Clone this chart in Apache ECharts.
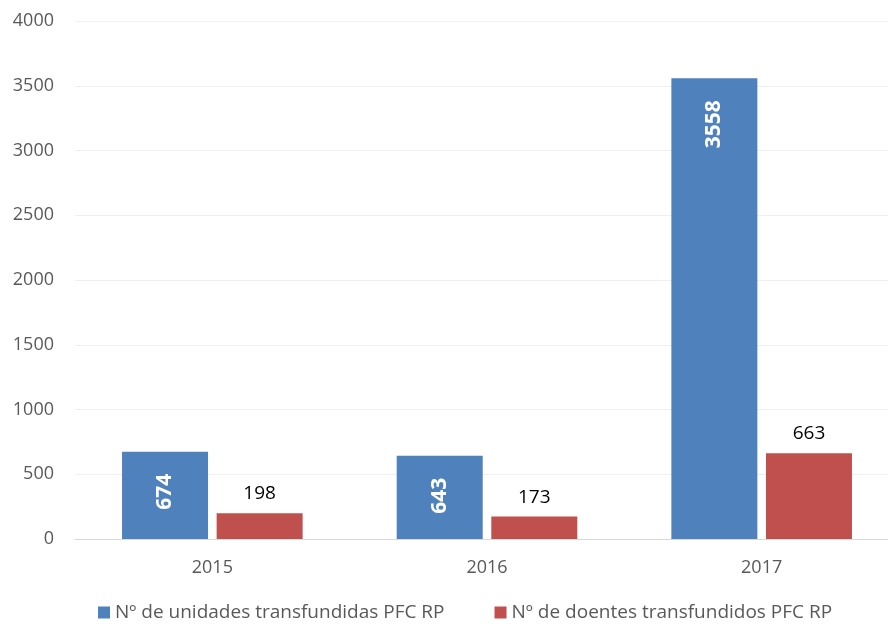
<!DOCTYPE html>
<html>
<head>
<meta charset="utf-8">
<script src="https://cdn.jsdelivr.net/npm/echarts@6/dist/echarts.min.js"></script>
<style>
  html, body { margin: 0; padding: 0; background: #ffffff; }
  #chart { width: 888px; height: 624px; }
</style>
</head>
<body>
<div id="chart"></div>
<script>
// Categories (years)
const years = ['2015', '2016', '2017'];
// Series values
const unidades = [674, 643, 3558];
const doentes = [198, 173, 663];
// Series names
const nameUnidades = 'Nº de unidades transfundidas PFC RP';
const nameDoentes = 'Nº de doentes transfundidos PFC RP';
// Value axis ticks
const yMin = 0, yMax = 4000, yStep = 500;

const fontFam = '"Open Sans", "Noto Sans", sans-serif';

const chart = echarts.init(document.getElementById('chart'), null, { renderer: 'canvas' });
chart.setOption({
  animation: false,
  backgroundColor: '#ffffff',
  textStyle: { fontFamily: fontFam },
  // plot area runs slightly past the right edge of the canvas
  grid: { left: 75, width: 824, top: 21, height: 518, containLabel: false, outerBoundsMode: 'none' },
  legend: {
    top: 598,
    left: 93,
    itemWidth: 12,
    itemHeight: 12,
    itemGap: 50,
    icon: 'rect',
    textStyle: { fontFamily: fontFam, fontSize: 19, color: '#595959' },
    data: [nameUnidades, nameDoentes]
  },
  xAxis: {
    type: 'category',
    data: years,
    axisLine: { lineStyle: { color: '#d9d9d9', width: 1 } },
    axisTick: { show: false },
    axisLabel: { fontFamily: fontFam, fontSize: 18, color: '#595959', margin: 20 }
  },
  yAxis: {
    type: 'value',
    min: yMin,
    max: yMax,
    interval: yStep,
    axisLine: { show: false },
    axisTick: { show: false },
    splitLine: { lineStyle: { color: '#efefef', width: 1 } },
    axisLabel: {
      fontFamily: fontFam, fontSize: 18, color: '#595959', margin: 21,
      formatter: v => String(v)
    }
  },
  series: [
    {
      name: nameUnidades,
      type: 'bar',
      data: unidades,
      barWidth: 86,
      barGap: '10%',
      itemStyle: { color: '#4F81BD' },
      label: {
        show: true,
        position: 'insideTop',
        rotate: 90,
        align: 'right',
        verticalAlign: 'middle',
        distance: 22,
        fontFamily: fontFam,
        fontSize: 21,
        fontWeight: 'bold',
        color: '#ffffff'
      }
    },
    {
      name: nameDoentes,
      type: 'bar',
      data: doentes,
      barWidth: 86,
      itemStyle: { color: '#C0504D' },
      label: {
        show: true,
        position: 'top',
        distance: 10,
        fontFamily: fontFam,
        fontSize: 19,
        color: '#000000'
      }
    }
  ]
});
</script>
</body>
</html>
